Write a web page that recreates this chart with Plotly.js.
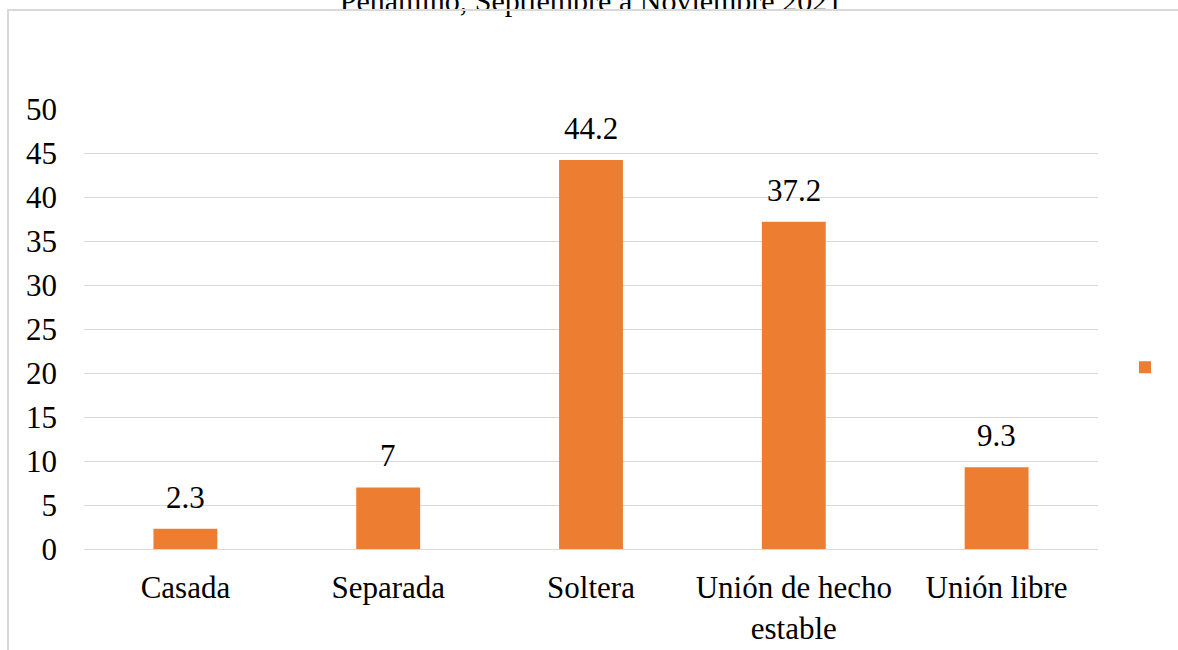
<!DOCTYPE html>
<html>
<head>
<meta charset="utf-8">
<script src="https://cdn.plot.ly/plotly-3.0.1.min.js"></script>
<style>
html,body{margin:0;padding:0;background:#fff;}
#wrap{position:relative;width:1178px;height:650px;overflow:hidden;}
#chart{position:absolute;left:0;top:0;width:1178px;height:650px;}
#frame{position:absolute;left:7px;top:9px;width:1200px;height:700px;border-left:2px solid #d9d9d9;border-top:2px solid #d9d9d9;pointer-events:none;}
</style>
</head>
<body>
<div id="wrap"><div id="chart"></div><div id="frame"></div></div>
<script>
const categories = ["Casada", "Separada", "Soltera", "Unión de hecho<br>estable", "Unión libre"];
const values = [2.3, 7, 44.2, 37.2, 9.3];
const valueLabels = ["2.3", "7", "44.2", "37.2", "9.3"];
const yTicks = [0, 5, 10, 15, 20, 25, 30, 35, 40, 45, 50];
const titleText = "Peñamino, Septiembre a Noviembre 2021";

const fontFam = '"Liberation Serif", "Times New Roman", serif';

const trace = {
  type: 'bar',
  x: categories,
  y: values,
  name: ' ',
  marker: {color: '#ED7D31'},
  showlegend: true,
  hoverinfo: 'x+y'
};

const annotations = categories.map((c, i) => ({
  x: c, y: values[i], xref: 'x', yref: 'y',
  text: valueLabels[i], showarrow: false,
  yanchor: 'bottom', yshift: 12,
  font: {family: fontFam, size: 31, color: '#000'}
}));

const layout = {
  width: 1178, height: 650,
  margin: {l: 84, r: 80, t: 109, b: 101, pad: 0, autoexpand: false},
  paper_bgcolor: '#fff', plot_bgcolor: '#fff',
  font: {family: fontFam, size: 31, color: '#000'},
  title: {text: titleText, x: 0.5, xref: 'paper', y: 1, yref: 'container', yanchor: 'middle',
          font: {family: fontFam, size: 30, color: '#000'}},
  bargap: 0.685,
  xaxis: {
    type: 'category', showgrid: false, showline: true, linecolor: '#d9d9d9', linewidth: 1,
    ticks: '', ticklabelstandoff: 11, automargin: false,
    tickfont: {family: fontFam, size: 31, color: '#000'}
  },
  yaxis: {
    range: [0, 50], tickvals: yTicks, ticktext: yTicks.map(String),
    showgrid: true, gridcolor: '#d9d9d9', gridwidth: 1, automargin: false,
    zeroline: false, showline: false, ticks: '', ticklabelstandoff: 26,
    tickfont: {family: fontFam, size: 31, color: '#000'}
  },
  legend: {xref: 'container', yref: 'container', x: 0.955, y: 0.435, xanchor: 'left', yanchor: 'middle',
           bgcolor: 'rgba(0,0,0,0)', font: {family: fontFam, size: 20}},
  annotations: annotations
};

Plotly.newPlot('chart', [trace], layout, {displayModeBar: false});
</script>
</body>
</html>
